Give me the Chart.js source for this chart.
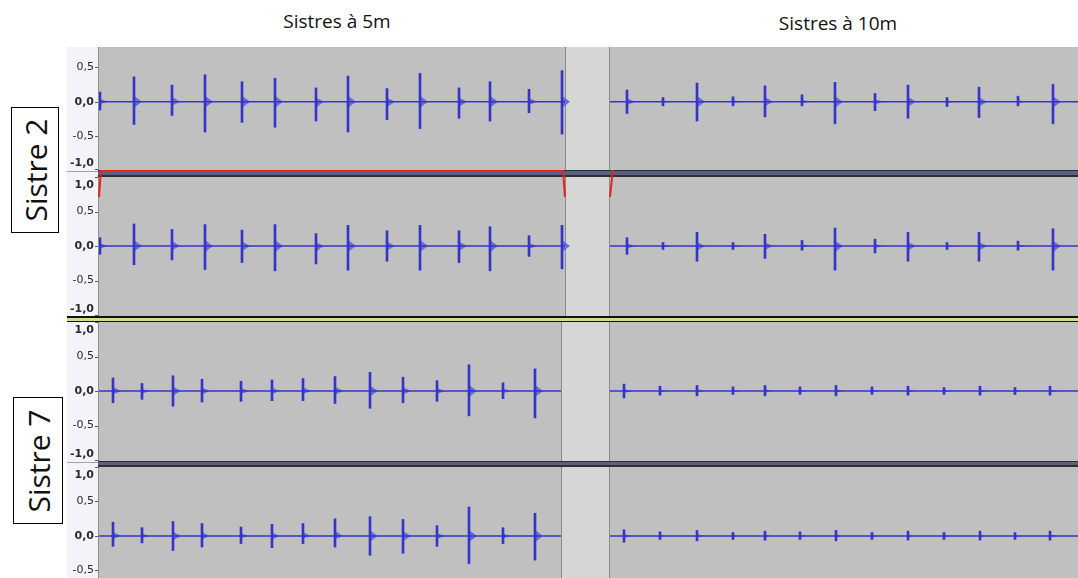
<!DOCTYPE html>
<html>
<head>
<meta charset="utf-8">
<script src="https://cdn.jsdelivr.net/npm/chart.js@4.4.1/dist/chart.umd.min.js"></script>
<style>
  body { margin: 0; background: #fff; }
  #page { position: relative; width: 1078px; height: 578px; overflow: hidden; background: #fff; font-family: "Open Sans", sans-serif; }
  .trk { position: absolute; left: 67px; width: 1011px; }
  .title { position: absolute; font-size: 19px; color: #111; white-space: nowrap; transform: translateX(-50%); }
  .box { position: absolute; border: 1px solid #000; background: #fff; box-sizing: border-box; }
  .box span { position: absolute; left: 50%; top: 50%; font-size: 30px; color: #111; white-space: nowrap;
              transform: translate(-50%, -50%) rotate(-90deg); }
</style>
</head>
<body>
<div id="page">
  <div class="title" style="left:337px; top:8px;">Sistres à 5m</div>
  <div class="title" style="left:838px; top:10px;">Sistres à 10m</div>

  <div class="box" style="left:11px; top:107px; width:48px; height:126px;"><span>Sistre 2</span></div>
  <div class="box" style="left:13px; top:397px; width:50px; height:127px;"><span>Sistre 7</span></div>

  <div class="trk" style="top:47px; height:123px;"><canvas id="trk1"></canvas></div>
  <div class="trk" style="top:170px; height:146px;"><canvas id="trk2"></canvas></div>
  <div class="trk" style="top:316px; height:145px;"><canvas id="trk3"></canvas></div>
  <div class="trk" style="top:461px; height:117px;"><canvas id="trk4"></canvas></div>
</div>

<script>
// time axis in seconds, 0 = left edge of the tracks
const T_MAX = 9.79;

// clips (two recordings per track: 5m then 10m)
const clipStartS2 = [0, 5.11];
const clipEndS2 = [4.66, 9.79];
const clipStartS7 = [0, 5.11];
const clipEndS7 = [4.62, 9.79];

// amplitude ruler
const rulerValues = [1, 0.5, 0, -0.5, -1];
const rulerLabels = ['1,0', '0,5', '0,0', '-0,5', '-1,0'];

// Sistre 2 - hit times and peak amplitudes (two channels)
const s2Times = [0.01, 0.35, 0.73, 1.06, 1.43, 1.76, 2.17, 2.49, 2.88, 3.21, 3.60, 3.91, 4.30, 4.63,
                 5.28, 5.64, 5.98, 6.34, 6.66, 7.03, 7.36, 7.76, 8.09, 8.48, 8.80, 9.19, 9.54];
const s2aUp =   [0.14, 0.36, 0.24, 0.39, 0.29, 0.34, 0.20, 0.37, 0.19, 0.41, 0.20, 0.29, 0.18, 0.45,
                 0.17, 0.06, 0.27, 0.07, 0.23, 0.10, 0.28, 0.12, 0.24, 0.06, 0.21, 0.08, 0.25];
const s2aDown = [0.12, 0.33, 0.20, 0.44, 0.30, 0.37, 0.28, 0.44, 0.26, 0.39, 0.24, 0.28, 0.16, 0.47,
                 0.17, 0.06, 0.28, 0.06, 0.22, 0.06, 0.32, 0.13, 0.24, 0.07, 0.23, 0.06, 0.32];
const s2bUp =   [0.12, 0.32, 0.24, 0.31, 0.23, 0.31, 0.18, 0.30, 0.22, 0.30, 0.22, 0.28, 0.15, 0.30,
                 0.12, 0.05, 0.20, 0.05, 0.17, 0.08, 0.26, 0.10, 0.20, 0.05, 0.20, 0.07, 0.25];
const s2bDown = [0.12, 0.27, 0.20, 0.34, 0.24, 0.36, 0.26, 0.35, 0.22, 0.35, 0.24, 0.36, 0.15, 0.33,
                 0.12, 0.05, 0.22, 0.05, 0.18, 0.06, 0.35, 0.10, 0.22, 0.05, 0.22, 0.06, 0.35];

// Sistre 7 - hit times and peak amplitudes (two channels)
const s7Times = [0.14, 0.43, 0.74, 1.03, 1.42, 1.73, 2.04, 2.36, 2.71, 3.04, 3.38, 3.70, 4.04, 4.36,
                 5.25, 5.61, 5.98, 6.34, 6.66, 7.01, 7.37, 7.73, 8.09, 8.45, 8.81, 9.16, 9.51];
const s7aUp =   [0.19, 0.11, 0.22, 0.17, 0.14, 0.16, 0.18, 0.21, 0.27, 0.20, 0.15, 0.38, 0.12, 0.32,
                 0.10, 0.07, 0.08, 0.06, 0.08, 0.06, 0.08, 0.06, 0.07, 0.05, 0.07, 0.05, 0.07];
const s7aDown = [0.17, 0.12, 0.22, 0.16, 0.15, 0.14, 0.14, 0.18, 0.25, 0.17, 0.15, 0.36, 0.11, 0.39,
                 0.10, 0.06, 0.07, 0.05, 0.07, 0.05, 0.07, 0.05, 0.06, 0.05, 0.06, 0.05, 0.06];
const s7bUp =   [0.20, 0.12, 0.21, 0.18, 0.13, 0.17, 0.18, 0.25, 0.28, 0.24, 0.15, 0.42, 0.12, 0.33,
                 0.09, 0.06, 0.08, 0.05, 0.07, 0.06, 0.08, 0.05, 0.07, 0.05, 0.07, 0.05, 0.07];
const s7bDown = [0.15, 0.10, 0.21, 0.16, 0.11, 0.17, 0.11, 0.16, 0.28, 0.25, 0.15, 0.40, 0.11, 0.35,
                 0.09, 0.05, 0.07, 0.05, 0.06, 0.05, 0.07, 0.05, 0.06, 0.05, 0.06, 0.05, 0.06];

// gain envelope drawn over the Sistre 2 second channel
const envTimes = [0, 0.02, 4.64, 4.66, 4.67, 5.11, 5.14, 9.79];
const envGain =  [0.71, 1.10, 1.10, 0.71, null, 0.71, 1.12, 1.12];

const WAVE = '#3434c9';
const TAIL = 'rgba(96, 96, 220, 0.9)';

function baseline(starts, ends) {
  const pts = [];
  starts.forEach((s, i) => {
    pts.push({x: s, y: 0}, {x: ends[i], y: 0}, {x: ends[i], y: null});
  });
  return pts;
}

function spikes(times, up, down) {
  return times.map((t, i) => ({x: t, y: [-down[i], up[i]]}));
}

// paints the ruler, clip background, gaps and the separator above a track
function trackPainter(starts, ends, sep) {
  return {
    id: 'trackPaint',
    beforeDraw(chart) {
      const {ctx, chartArea: a, scales: {x, y}} = chart;
      const W = chart.width;
      ctx.save();

      // ruler
      ctx.fillStyle = '#f3f4f9';
      ctx.fillRect(0, a.top, a.left, a.bottom - a.top);

      // clips background
      ctx.fillStyle = '#c0c0c0';
      ctx.fillRect(a.left, a.top, a.right - a.left, a.bottom - a.top);

      // empty space between the two clips
      for (let i = 0; i < ends.length - 1; i++) {
        const x0 = Math.round(x.getPixelForValue(ends[i]));
        const x1 = Math.round(x.getPixelForValue(starts[i + 1]));
        ctx.fillStyle = '#d6d6d6';
        ctx.fillRect(x0, a.top, x1 - x0, a.bottom - a.top);
        ctx.fillStyle = '#8a8a8a';
        ctx.fillRect(x0, a.top, 1, a.bottom - a.top);
        ctx.fillRect(x1 - 1, a.top, 1, a.bottom - a.top);
      }

      // left border of the track
      ctx.fillStyle = '#8e8e8e';
      ctx.fillRect(a.left - 1, a.top, 1, a.bottom - a.top);

      // separator above the track
      if (sep === 'dark') {
        ctx.fillStyle = '#f3f4f9';
        ctx.fillRect(0, 0, a.left, a.top);
        ctx.fillStyle = '#a2a2a8';
        ctx.fillRect(0, 1, a.left, 1);
        ctx.fillStyle = '#5c6080';
        ctx.fillRect(a.left - 1, 1, W - a.left + 1, a.top - 2);
        ctx.fillStyle = '#2e2e36';
        ctx.fillRect(a.left - 1, a.top - 2, W - a.left + 1, 2);
        ctx.fillRect(a.left - 1, 0, W - a.left + 1, 1);
      } else if (sep === 'yellow') {
        ctx.fillStyle = '#111';
        ctx.fillRect(0, 0, W, 2);
        ctx.fillStyle = '#d9d88f';
        ctx.fillRect(0, 2, W, 3);
        ctx.fillStyle = '#111';
        ctx.fillRect(0, 5, W, 1);
      }

      // ruler labels and ticks
      ctx.textAlign = 'right';
      ctx.textBaseline = 'middle';
      rulerValues.forEach((v, i) => {
        if (v > y.max + 0.02 || v < y.min - 0.02) return;
        const py = y.getPixelForValue(v);
        const ly = Math.min(Math.max(py, a.top + 8), a.bottom - 7);
        const bold = v === 0 || Math.abs(v) === 1;
        ctx.font = (bold ? 'bold ' : '') + '11px "DejaVu Sans"';
        ctx.fillStyle = '#2a2a2a';
        ctx.fillText(rulerLabels[i], a.left - 5, ly);
        ctx.fillStyle = '#555';
        ctx.fillRect(a.left - 4, Math.round(Math.min(py, a.bottom - 1)), 3, 1);
      });
      ctx.restore();
    },
    // decaying tail right after each hit, drawn under the peak line
    beforeDatasetsDraw(chart) {
      const {ctx, scales: {y}} = chart;
      const ds = chart.data.datasets[1];
      const meta = chart.getDatasetMeta(1);
      const y0 = y.getPixelForValue(0);
      ctx.save();
      ctx.fillStyle = TAIL;
      meta.data.forEach((el, i) => {
        const d = ds.data[i];
        const hu = Math.min((y0 - y.getPixelForValue(d.y[1])) * 0.3, 6);
        const hd = Math.min((y.getPixelForValue(d.y[0]) - y0) * 0.3, 6);
        ctx.beginPath();
        ctx.moveTo(el.x, y0 - hu);
        ctx.lineTo(el.x + 8, y0);
        ctx.lineTo(el.x, y0 + hd);
        ctx.closePath();
        ctx.fill();
      });
      ctx.restore();
    }
  };
}

function makeTrack(id, cfg) {
  const datasets = [
    {
      type: 'line',
      data: baseline(cfg.starts, cfg.ends),
      borderColor: WAVE,
      borderWidth: 1.5,
      pointRadius: 0,
      spanGaps: false,
      order: 2
    },
    {
      type: 'bar',
      data: spikes(cfg.times, cfg.up, cfg.down),
      backgroundColor: WAVE,
      barThickness: 2,
      grouped: false,
      order: 1
    }
  ];
  if (cfg.envelope) {
    datasets.push({
      type: 'line',
      data: envTimes.map((t, i) => ({x: t, y: envGain[i]})),
      borderColor: '#e8211d',
      borderWidth: 2,
      pointRadius: 0,
      spanGaps: false,
      clip: false,
      order: 0
    });
  }

  return new Chart(document.getElementById(id), {
    type: 'bar',
    data: { datasets: datasets },
    options: {
      animation: false,
      responsive: true,
      maintainAspectRatio: false,
      layout: { padding: { left: 32, top: cfg.padTop, right: 0, bottom: 0 } },
      scales: {
        x: { type: 'linear', min: 0, max: T_MAX, display: false, offset: false },
        y: { min: cfg.min, max: cfg.max, display: false }
      },
      plugins: {
        legend: { display: false },
        tooltip: { enabled: false }
      }
    },
    plugins: [trackPainter(cfg.starts, cfg.ends, cfg.sep)]
  });
}

makeTrack('trk1', { times: s2Times, up: s2aUp, down: s2aDown, starts: clipStartS2, ends: clipEndS2,
                    min: -0.99, max: 0.793, padTop: 0, sep: 'none' });
makeTrack('trk2', { times: s2Times, up: s2bUp, down: s2bDown, starts: clipStartS2, ends: clipEndS2,
                    min: -1.014, max: 1, padTop: 7, sep: 'dark', envelope: true });
makeTrack('trk3', { times: s7Times, up: s7aUp, down: s7aDown, starts: clipStartS7, ends: clipEndS7,
                    min: -1.014, max: 1, padTop: 6, sep: 'yellow' });
makeTrack('trk4', { times: s7Times, up: s7bUp, down: s7bDown, starts: clipStartS7, ends: clipEndS7,
                    min: -0.609, max: 1, padTop: 6, sep: 'dark' });
</script>
</body>
</html>
